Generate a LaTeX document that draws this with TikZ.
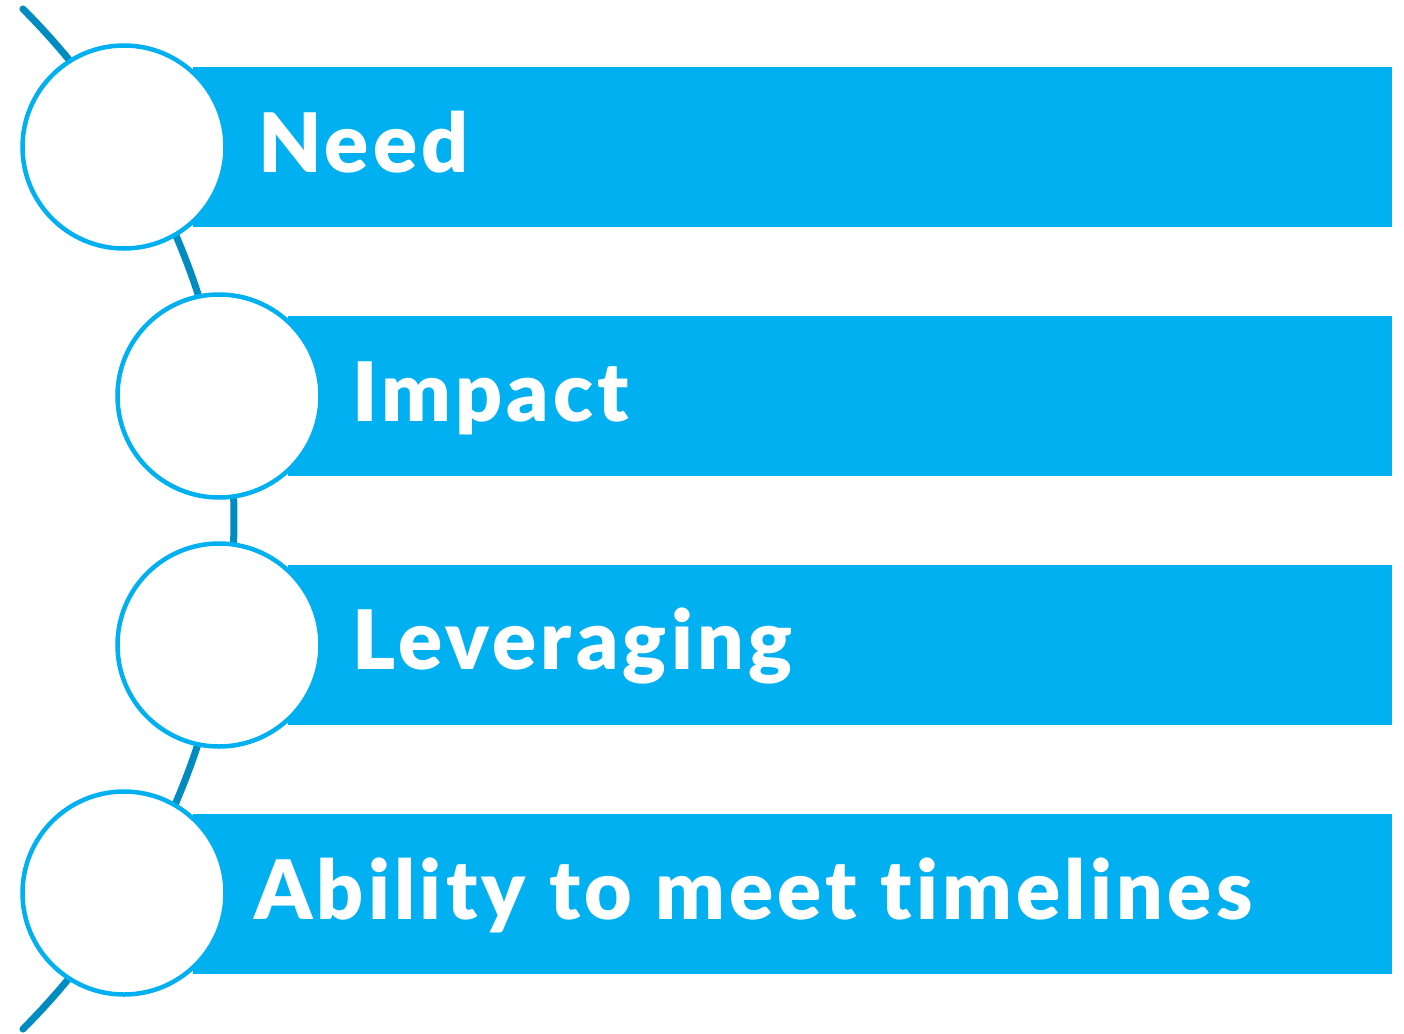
\documentclass[tikz,border=0pt]{standalone}
\usepackage{fontspec}
\setmainfont{Lato}
\newfontfamily\labelfont[Ligatures=NoCommon,LetterSpace=5.2]{Lato Black}
\definecolor{barblue}{RGB}{0,176,240}
\definecolor{arcblue}{RGB}{0,140,192}
\tikzset{
  bar/.style={fill=barblue, draw=none, anchor=north west, inner sep=0pt, minimum height=160pt},
  ring/.style={circle, fill=white, draw=barblue, line width=4.5pt, minimum size=203pt, inner sep=0pt},
  label/.style={anchor=base west, inner sep=0pt, text=white, font=\fontsize{82}{82}\selectfont\labelfont},
  spine/.style={draw=arcblue, line width=7pt, line cap=round}
}
\begin{document}
\begin{tikzpicture}[x=1pt,y=-1pt]
\useasboundingbox (0,0) rectangle (1404,1033);
\draw[spine] plot[domain=-44.95:44.95, samples=120] ({-488+722*cos(\x)},{519+722*sin(\x)});
\node[bar, minimum width=1199pt] (b1) at (193,67) {};
\node[bar, minimum width=1104pt] (b2) at (288,316) {};
\node[bar, minimum width=1104pt] (b3) at (288,565) {};
\node[bar, minimum width=1199pt] (b4) at (193,814) {};
\node[ring] (c1) at (124,147) {};
\node[ring] (c2) at (219,396) {};
\node[ring] (c3) at (219,645) {};
\node[ring] (c4) at (124,893) {};
\node[label] (t1) at (258,172) {Need};
\node[label] (t2) at (352,421) {Impact};
\node[label] (t3) at (352,669) {Leveraging};
\node[label] (t4) at (254,919) {Ability to meet timelines};
\end{tikzpicture}
\end{document}
